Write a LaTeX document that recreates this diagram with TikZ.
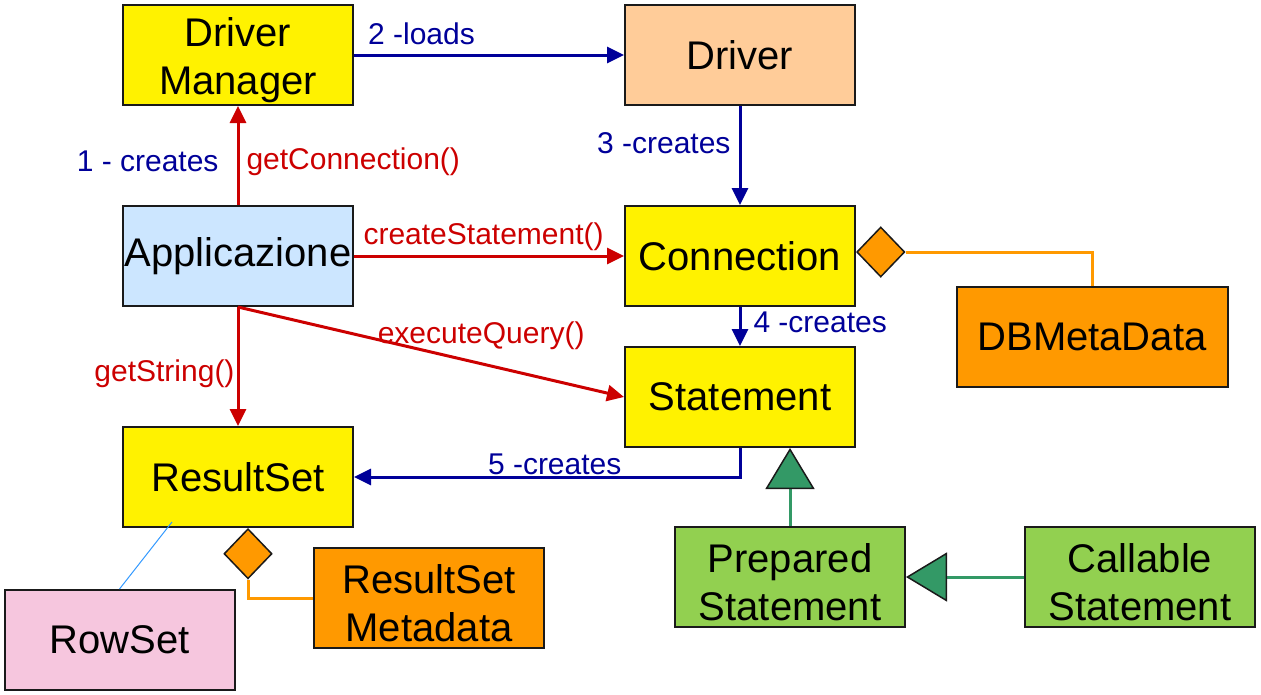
\documentclass[tikz,border=0pt]{standalone}
\usepackage{fontspec}
\setmainfont{Liberation Sans}
\usepackage{tikz}
\usetikzlibrary{arrows.meta,positioning,calc,shapes.geometric}
\definecolor{boxline}{HTML}{1A1A1A}
\definecolor{makeblue}{HTML}{000099}
\definecolor{callred}{HTML}{CC0000}
\definecolor{appblue}{HTML}{CCE6FF}
\definecolor{drvpeach}{HTML}{FFCC99}
\definecolor{metaorange}{HTML}{FF9900}
\definecolor{rowpink}{HTML}{F6C6DE}
\definecolor{stmtgreen}{HTML}{92D050}
\definecolor{gengreen}{HTML}{339966}
\definecolor{rowblue}{HTML}{3399FF}
\newcommand*{\BoxFont}{\fontsize{40}{48}\selectfont}
\newcommand*{\LabelFont}{\fontsize{30}{36}\selectfont}
\newcommand*{\TopStrut}{\rule{0pt}{40pt}}

\begin{document}
\begin{tikzpicture}[x=1pt,y=-1pt,>={Triangle[length=17pt,width=16pt]},
  cls/.style={draw=boxline,line width=2pt,minimum width=230pt,minimum height=100pt,inner sep=1pt,align=center,font=\BoxFont},
  call/.style={->,line width=3pt,draw=callred},
  make/.style={->,line width=3pt,draw=makeblue},
  lbl/.style={font=\LabelFont,inner sep=4pt},
  agg/.style={diamond,draw=boxline,line width=1.5pt,fill=metaorange,minimum width=48pt,minimum height=50pt,inner sep=0pt},
  aggline/.style={line width=3pt,draw=metaorange},
  gen/.style={line width=3pt,draw=gengreen,-{Triangle[length=41pt,width=49pt,color=boxline,fill=gengreen,line width=1.5pt]}}]
\useasboundingbox (0,0) rectangle (1261,694);
\node[cls,fill=appblue] (app) at (238,256) {Applicazione};
\node[cls,fill=yellow,above=99pt of app] (dm) {\TopStrut Driver\\Manager};
\node[cls,fill=drvpeach,right=270pt of dm] (drv) {Driver};
\node[cls,fill=yellow,right=270pt of app] (conn) {Connection};
\node[cls,fill=yellow,below=39pt of conn] (stmt) {Statement};
\node[cls,fill=yellow,below=119pt of app] (rs) {ResultSet};
\node[cls,fill=metaorange,minimum width=271pt] (dbmd) at (1092,337) {DBMetaData};
\node[cls,fill=metaorange] (rsmd) at (429,598) {\TopStrut ResultSet\\Metadata};
\node[cls,fill=rowpink] (row) at (119.5,640) {RowSet};
\node[cls,fill=stmtgreen,below=78pt of stmt,xshift=50pt] (pstmt) {\TopStrut Prepared\\Statement};
\node[cls,fill=stmtgreen,right=118pt of pstmt] (cstmt) {\TopStrut Callable\\Statement};
\draw[make] (dm) -- node[lbl,above,pos=.25,yshift=5pt,text=makeblue]{2 -loads} (drv);
\draw[make] (drv) -- node[lbl,left,pos=.38,xshift=-4pt,text=makeblue]{3 -creates} (conn);
\draw[call] (app) -- node[lbl,right,pos=.44,xshift=3pt,text=callred]{getConnection()}
  node[lbl,left,pos=.44,xshift=-14pt,text=makeblue]{1 - creates} (dm);
\draw[call] (app) -- node[lbl,above,pos=.48,text=callred]{createStatement()} (conn);
\draw[call] (app.south) -- node[lbl,above,pos=.63,yshift=8pt,text=callred]{executeQuery()} (stmt.west);
\draw[call] (app) -- node[lbl,left,pos=.56,xshift=2pt,text=callred]{getString()} (rs);
\draw[make] (conn) -- node[lbl,right,pos=.4,xshift=8pt,text=makeblue]{4 -creates} (stmt);
\draw[make] (stmt.south) |- node[lbl,above,pos=.74,inner sep=1pt,text=makeblue]{5 -creates} (rs.east);
\node[agg,anchor=west] (condia) at ([yshift=4pt]conn.east) {};
\node[agg,anchor=north] (rsdia) at ([xshift=10pt]rs.south) {};
\draw[aggline] (condia.east) -| (dbmd.north);
\draw[aggline] (rsdia.south) |- (rsmd.west);
\coordinate (rsfoot) at ($(rs.south)+(-66,-6)$);
\draw[rowblue,line width=1pt] (row.north) -- (rsfoot);
\draw[gen] (pstmt) -- (pstmt.north |- stmt.south);
\draw[gen] (cstmt) -- (pstmt);
\end{tikzpicture}
\end{document}
